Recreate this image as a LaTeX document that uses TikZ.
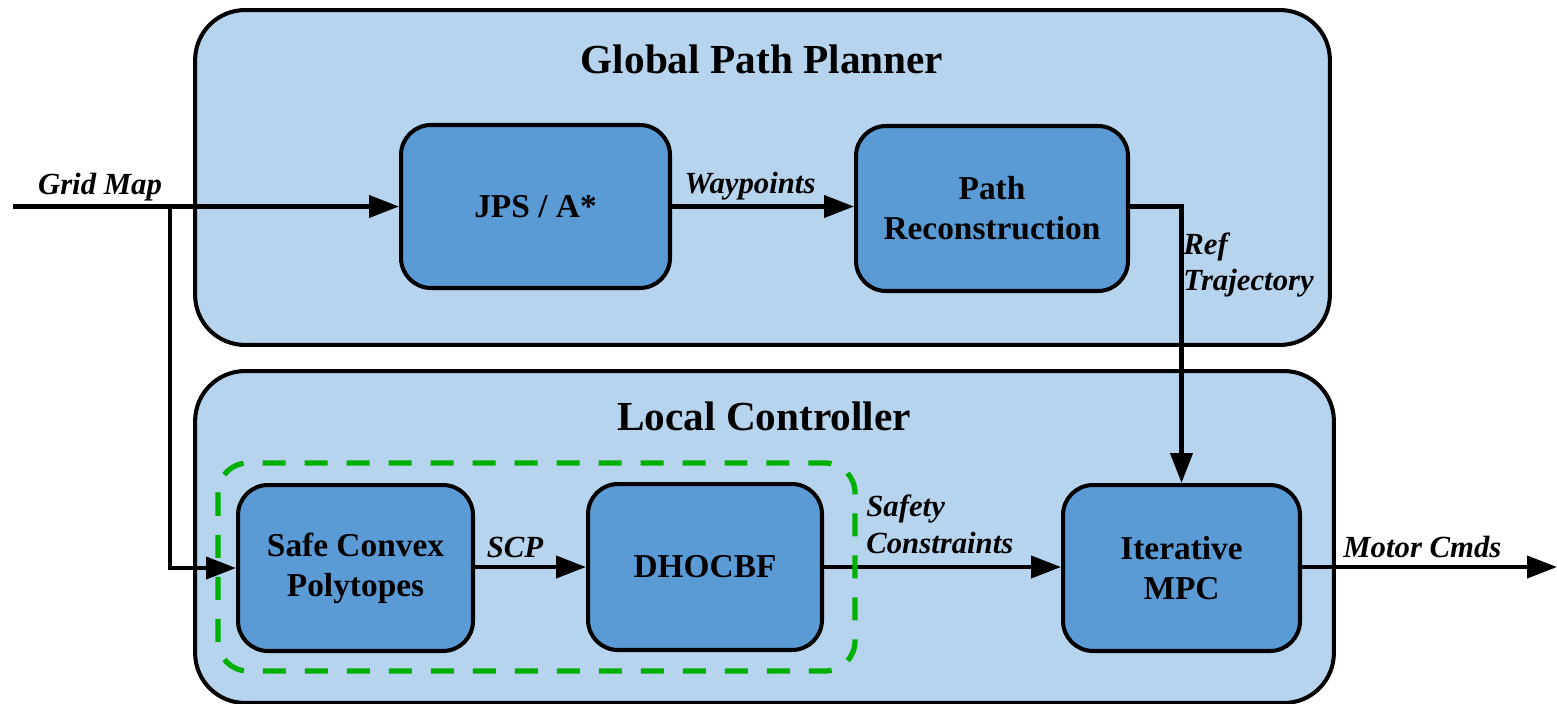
\documentclass[tikz,border=0pt]{standalone}
\usepackage{fontspec}
\setmainfont{Liberation Serif}
\usetikzlibrary{positioning,arrows.meta}
\definecolor{panelbg}{HTML}{B7D4EE}
\definecolor{blockbg}{HTML}{5B9BD5}
\definecolor{zonegreen}{HTML}{00B000}
\tikzset{
  panel/.style={draw, line width=2.3pt, rounded corners=1cm, fill=panelbg},
  block/.style={draw, line width=2.3pt, rounded corners=6mm, fill=blockbg, align=center, font=\fontsize{19}{22.7}\selectfont\bfseries},
  paneltitle/.style={font=\fontsize{23.5}{28}\selectfont\bfseries, anchor=base},
  sig/.style={font=\fontsize{17.5}{21}\selectfont\bfseries\itshape, anchor=base, inner sep=0pt},
  sigline/.style={draw, line width=2.3pt, -{Triangle[length=6mm,width=4.4mm]}},
  safezone/.style={draw=zonegreen, line width=3pt, dash pattern=on 4.6mm off 3.8mm, rounded corners=6mm}
}
\begin{document}
\begin{tikzpicture}[x=0.02cm, y=-0.02cm]
  \useasboundingbox (0,0) rectangle (1557,703);

  % panels
  \node[panel, minimum width=22.7cm, minimum height=6.7cm] (global) at (762.5,177.5) {};
  \node[panel, minimum width=22.78cm, minimum height=6.64cm] (local) at (764.5,537) {};
  \node[paneltitle] (globaltitle) at (762,73) {Global Path Planner};
  \node[paneltitle] (localtitle) at (764,430) {Local Controller};

  % blocks
  \node[block, minimum width=5.38cm, minimum height=3.26cm] (jps) at (535.5,206.5) {JPS / A*};
  \node[block, minimum width=5.44cm, minimum height=3.3cm] (recon) at (992,208.5) {Path\\Reconstruction};
  \node[block, minimum width=4.7cm, minimum height=3.32cm] (scp) at (355.5,568) {Safe Convex\\Polytopes};
  \node[block, minimum width=4.68cm, minimum height=3.32cm] (cbf) at (705,567) {DHOCBF};
  \node[block, minimum width=4.74cm, minimum height=3.32cm] (mpc) at (1181.5,568) {Iterative\\MPC};

  \coordinate (mapin) at (13,206.5);
  \coordinate (mapsplit) at (170,206.5);
  \coordinate (cmdout) at (1557,567);

  % signals
  \draw[sigline] (mapin) -- (mapin -| jps.west);
  \draw[sigline] (mapsplit) |- (scp.west);
  \draw[sigline] (jps) -- (recon.west |- jps);
  \draw[sigline] (recon.east |- jps) -| (mpc.north);
  \draw[sigline] (scp.east |- cbf) -- (cbf);
  \draw[sigline] (cbf) -- (mpc.west |- cbf);
  \draw[sigline] (mpc.east |- cmdout) -- (cmdout);

  \node[sig] (maplbl) at (100,194) {Grid Map};
  \node[sig] (wplbl) at (750,193) {Waypoints};
  \node[sig, anchor=west, align=left] (reflbl) at (1183,265) {Ref\\Trajectory};
  \node[sig] (scplbl) at (515,557) {SCP};
  \node[sig, anchor=west, align=left] (safelbl) at (866,524) {Safety\\Constraints};
  \node[sig, anchor=base west] (cmdlbl) at (1343,557) {Motor Cmds};

  % safety filter group
  \draw[safezone] (218,463) rectangle (855,671);
\end{tikzpicture}
\end{document}
